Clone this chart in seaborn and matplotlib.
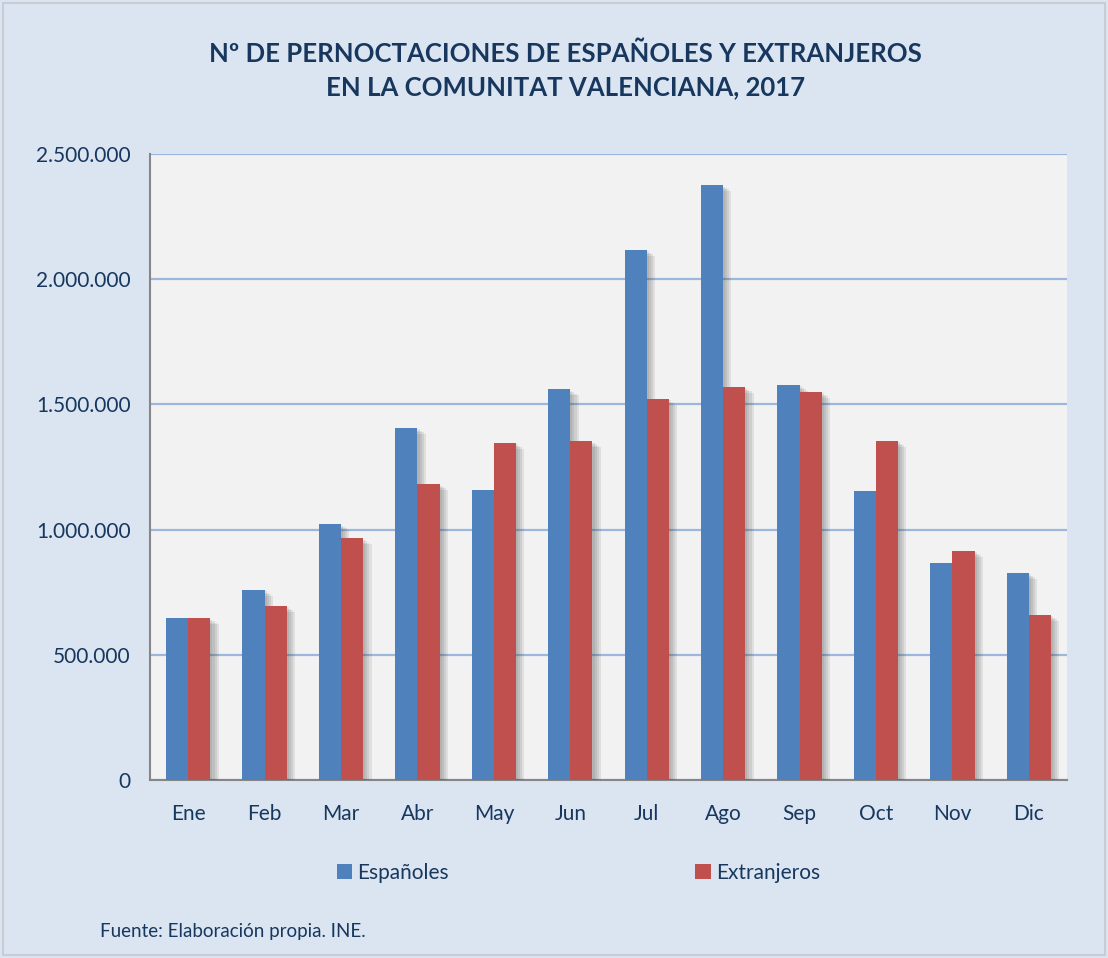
import pandas as pd
import matplotlib.pyplot as plt
import matplotlib.patheffects as pe
from matplotlib.patches import Rectangle, Patch
from matplotlib.ticker import FuncFormatter, FixedLocator, NullFormatter
import seaborn as sns

meses = ['Ene', 'Feb', 'Mar', 'Abr', 'May', 'Jun', 'Jul', 'Ago', 'Sep', 'Oct', 'Nov', 'Dic']
espanoles = [646000, 760000, 1022000, 1406000, 1158000, 1560000, 2117000, 2376000, 1578000, 1154000, 865000, 827000]
extranjeros = [646000, 696000, 966000, 1182000, 1347000, 1353000, 1523000, 1570000, 1550000, 1354000, 915000, 660000]
series = ['Españoles', 'Extranjeros']
colores = ['#4f81bd', '#c0504d']

BG = '#dbe5f1'
NAVY = '#17375e'

df = pd.DataFrame({'mes': meses * 2,
                   'valor': espanoles + extranjeros,
                   'serie': [series[0]] * 12 + [series[1]] * 12})

sns.set_style('white')
plt.rcParams['font.family'] = ['Lato', 'DejaVu Sans']

fig = plt.figure(figsize=(11.08, 9.58), dpi=100, facecolor=BG)
fig.patches.append(Rectangle((0.003, 0.003), 0.994, 0.994, transform=fig.transFigure,
                             fill=False, edgecolor='#c8cdd4', linewidth=1.5))
ax = fig.add_axes([0.1354, 0.1858, 0.8276, 0.6534])
ax.set_facecolor('#f2f2f2')

sns.barplot(data=df, x='mes', y='valor', hue='serie', order=meses, hue_order=series,
            palette=colores, width=0.58, saturation=1, ax=ax, legend=False,
            edgecolor='none', linewidth=0)

# soft shadow, a few stacked offsets
sombra = [pe.SimplePatchShadow(offset=(d, -d * 0.7), shadow_rgbFace='#404040', alpha=0.1)
          for d in (1.5, 3, 4.5, 6)]
for p in ax.patches:
    p.set_path_effects(sombra + [pe.Normal()])
    p.set_zorder(3)

ax.set_ylim(0, 2500000)
ax.set_xlim(-0.5, 11.5)
ax.set_yticks([0, 500000, 1000000, 1500000, 2000000, 2500000])
ax.yaxis.set_major_formatter(FuncFormatter(lambda v, _: f'{int(v):,}'.replace(',', '.')))
ax.yaxis.grid(True, color='#9bb7db', linewidth=1.6)
ax.set_axisbelow(True)

ax.xaxis.set_major_locator(FixedLocator([i - 0.5 for i in range(13)]))
ax.xaxis.set_major_formatter(NullFormatter())
ax.xaxis.set_minor_locator(FixedLocator(list(range(12))))
ax.set_xticklabels(meses, minor=True)
ax.tick_params(axis='x', which='major', length=7, width=1.2, color='#868686', direction='out')
ax.tick_params(axis='x', which='minor', length=0, pad=17, labelsize=15, labelcolor=NAVY)
ax.tick_params(axis='y', length=6, width=1.2, color='#868686', direction='out', pad=8,
               labelsize=15, labelcolor=NAVY)
ax.set_xlabel('')
ax.set_ylabel('')

for s in ['top', 'right']:
    ax.spines[s].set_visible(False)
for s in ['left', 'bottom']:
    ax.spines[s].set_color('#868686')
    ax.spines[s].set_linewidth(1.5)

handles = [Patch(facecolor=c, edgecolor='none') for c in colores]
fig.legend(handles, series, loc='center', bbox_to_anchor=(0.522, 0.0887), ncol=2,
           frameon=False, fontsize=15, labelcolor=NAVY, handlelength=0.75, handleheight=0.75,
           handletextpad=0.25, columnspacing=11.8)

fig.text(0.51, 0.927, 'Nº DE PERNOCTACIONES DE ESPAÑOLES Y EXTRANJEROS\nEN LA COMUNITAT VALENCIANA, 2017',
         ha='center', va='center', fontsize=18.5, fontweight='bold', color=NAVY, linespacing=1.45)
fig.text(0.09, 0.028, 'Fuente: Elaboración propia. INE.', ha='left', va='center',
         fontsize=13.5, color=NAVY)

fig.savefig('out.png', dpi=100, facecolor=BG)
